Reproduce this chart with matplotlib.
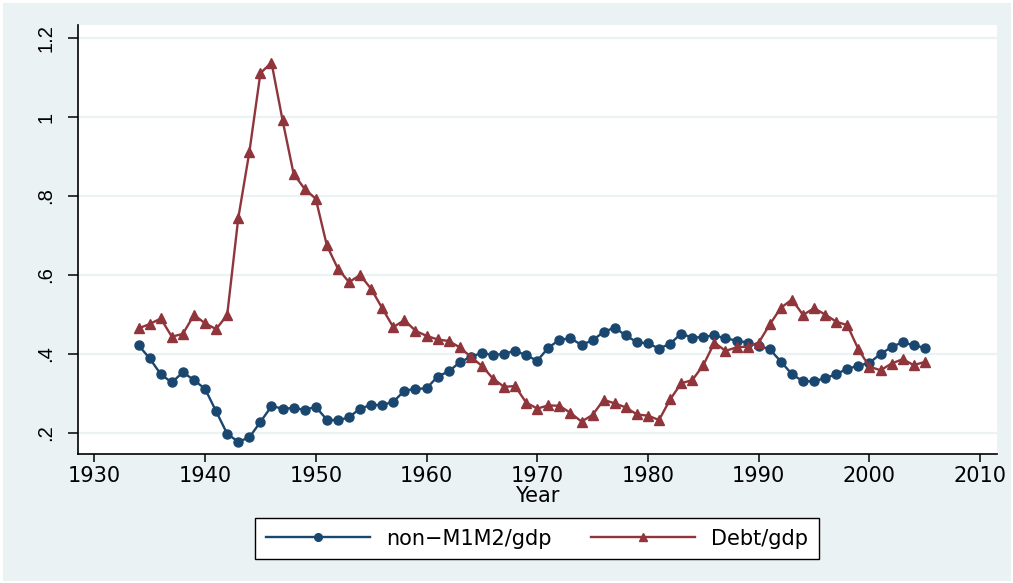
import matplotlib
matplotlib.use("Agg")
import matplotlib.pyplot as plt
from matplotlib.patches import Rectangle

years = list(range(1934, 2006))

non_m1m2_gdp = [
    0.422, 0.389, 0.349, 0.328, 0.354, 0.334, 0.312, 0.255, 0.198, 0.178,
    0.189, 0.228, 0.268, 0.262, 0.263, 0.259, 0.266, 0.234, 0.232, 0.240,
    0.262, 0.271, 0.271, 0.279, 0.307, 0.312, 0.313, 0.343, 0.356, 0.379,
    0.393, 0.403, 0.397, 0.401, 0.408, 0.397, 0.383, 0.416, 0.436, 0.440,
    0.423, 0.435, 0.456, 0.467, 0.447, 0.430, 0.427, 0.414, 0.426, 0.452,
    0.441, 0.444, 0.447, 0.440, 0.434, 0.429, 0.421, 0.412, 0.381, 0.349,
    0.331, 0.331, 0.339, 0.349, 0.363, 0.370, 0.378, 0.400, 0.418, 0.430,
    0.422, 0.416,
]

debt_gdp = [
    0.465, 0.476, 0.490, 0.444, 0.451, 0.499, 0.478, 0.463, 0.499, 0.744,
    0.911, 1.111, 1.138, 0.992, 0.856, 0.818, 0.793, 0.675, 0.616, 0.582,
    0.600, 0.565, 0.516, 0.468, 0.486, 0.459, 0.446, 0.437, 0.433, 0.417,
    0.393, 0.370, 0.338, 0.317, 0.319, 0.277, 0.262, 0.270, 0.269, 0.251,
    0.229, 0.246, 0.284, 0.275, 0.265, 0.247, 0.244, 0.233, 0.285, 0.326,
    0.334, 0.372, 0.429, 0.408, 0.417, 0.419, 0.429, 0.475, 0.517, 0.538,
    0.499, 0.516, 0.500, 0.482, 0.473, 0.412, 0.368, 0.359, 0.376, 0.387,
    0.372, 0.380,
]

x_ticks = [1930, 1940, 1950, 1960, 1970, 1980, 1990, 2000, 2010]
y_ticks = [0.2, 0.4, 0.6, 0.8, 1.0, 1.2]
y_tick_labels = [".2", ".4", ".6", ".8", "1", "1.2"]
series_labels = ["non\u2212M1M2/gdp", "Debt/gdp"]

plt.rcParams['font.family'] = ['DejaVu Sans']

BG = "#eaf2f3"
NAVY = "#1a476f"
MAROON = "#90353b"

fig = plt.figure(figsize=(10.13, 5.83), dpi=100, facecolor=BG)
fig.patches.append(Rectangle((0, 0), 1, 1, transform=fig.transFigure,
                             fill=False, edgecolor='white', lw=3.5,
                             zorder=10))
ax = fig.add_axes([0.0767, 0.2213, 0.9073, 0.7358])
ax.set_facecolor("white")

ax.plot(years, non_m1m2_gdp, color=NAVY, lw=1.7, marker='o', ms=6.5,
        label=series_labels[0], zorder=3)
ax.plot(years, debt_gdp, color=MAROON, lw=1.7, marker='^', ms=7.5,
        label=series_labels[1], zorder=3)

ax.set_xlim(1928.5, 2011.5)
ax.set_ylim(0.147, 1.233)
ax.set_xticks(x_ticks)
ax.set_yticks(y_ticks)
ax.set_yticklabels(y_tick_labels, rotation=90, va='center',
                   family=['Liberation Sans', 'DejaVu Sans'], fontsize=14.5)
ax.tick_params(axis='x', labelsize=15, length=6, width=1.1, color='black',
               direction='out', pad=3)
ax.tick_params(axis='y', length=7, width=1.1, color='black',
               direction='out', pad=9)
ax.yaxis.grid(True, color=BG, lw=1.6)
ax.set_axisbelow(True)
for s in ['top', 'right']:
    ax.spines[s].set_visible(False)
for s in ['left', 'bottom']:
    ax.spines[s].set_color('black')
    ax.spines[s].set_linewidth(1.2)

ax.set_xlabel("Year", fontsize=15, labelpad=0)

leg = fig.legend(loc='center', bbox_to_anchor=(0.530, 0.0763), ncol=2,
                 fontsize=15, frameon=True, fancybox=False, numpoints=1,
                 handlelength=5.0, columnspacing=1.9, handletextpad=0.77,
                 borderpad=0.5, borderaxespad=0, markerscale=0.85,
                 edgecolor='black', framealpha=1)
leg.get_frame().set_linewidth(1.0)
leg.get_frame().set_facecolor('white')

fig.savefig("out.png", dpi=100, facecolor=BG)
